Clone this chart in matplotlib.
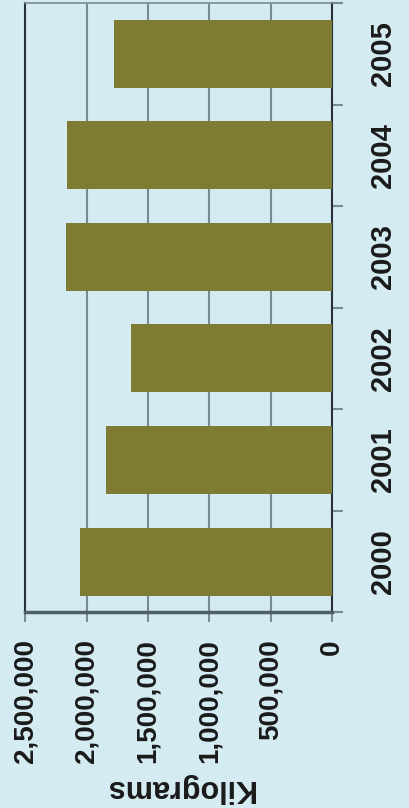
import matplotlib.pyplot as plt
import numpy as np

plt.rcParams['font.family'] = ['Liberation Sans', 'DejaVu Sans']

# Data
years = ['2000', '2001', '2002', '2003', '2004', '2005']
kilograms = [2053000, 1840000, 1636000, 2167000, 2165000, 1780000]
value_ticks = [0, 500000, 1000000, 1500000, 2000000, 2500000]

bg = '#d4ebf2'
bar_color = '#7f7b33'
grid_color = '#7a8a96'
dark = '#263238'

fig = plt.figure(figsize=(4.09, 8.08), dpi=100, facecolor=bg)
ax = fig.add_axes([0.0623, 0.2422, 0.749, 0.7541])
ax.set_facecolor(bg)

pos = np.arange(len(years))
ax.barh(pos, kilograms, height=0.67, color=bar_color, zorder=3)

# value axis runs right-to-left (chart is turned a quarter turn)
ax.set_xlim(value_ticks[-1], value_ticks[0])
ax.set_ylim(-0.5, len(years) - 0.5)

ax.set_xticks(value_ticks)
ax.set_xticklabels([f'{v:,}' for v in value_ticks], rotation=90,
                   fontsize=20, fontweight='bold', color='#1a1a1a')
ax.tick_params(axis='x', direction='out', length=7.5, width=1.5,
               color=grid_color, pad=12)
for lab in ax.get_xticklabels():
    lab.set_va('top')
    lab.set_ha('center')

ax.yaxis.tick_right()
ax.set_yticks(np.arange(-0.5, len(years)), minor=False)
ax.set_yticklabels([])
ax.set_yticks(pos, minor=True)
ax.set_yticklabels(years, minor=True, rotation=90, fontsize=21,
                   fontweight='bold', color='#1a1a1a', va='center', ha='left')
ax.tick_params(axis='y', which='major', direction='out', length=8,
               width=1.5, color=grid_color)
ax.tick_params(axis='y', which='minor', length=0, pad=27)

ax.grid(axis='x', color=grid_color, linewidth=1.5, zorder=1)
ax.set_axisbelow(True)

ax.spines['left'].set_color(dark)
ax.spines['left'].set_linewidth(1.5)
ax.spines['right'].set_color(dark)
ax.spines['right'].set_linewidth(1.5)
ax.spines['top'].set_color(grid_color)
ax.spines['top'].set_linewidth(1.2)
ax.spines['bottom'].set_color('#4f5f6a')
ax.spines['bottom'].set_linewidth(2.5)

fig.text(179 / 409, 1 - 788 / 808, 'Kilograms', rotation=180,
         ha='center', va='center', fontsize=22, fontweight='bold',
         color='#1a1a1a')

fig.savefig('out.png', dpi=100, facecolor=bg)
